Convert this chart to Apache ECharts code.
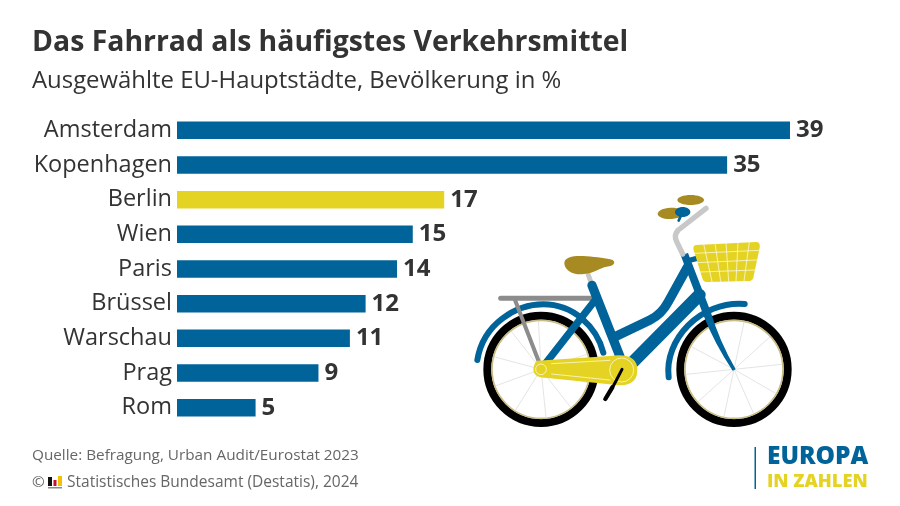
<!DOCTYPE html>
<html>
<head>
<meta charset="utf-8">
<title>Das Fahrrad als häufigstes Verkehrsmittel</title>
<script src="https://cdn.jsdelivr.net/npm/echarts@6/dist/echarts.min.js"></script>
<style>
  html, body { margin: 0; padding: 0; background: #fff; }
  #chart { width: 900px; height: 506px; }
</style>
</head>
<body>
<div id="chart"></div>
<script>
// chart data
var cities = ['Amsterdam', 'Kopenhagen', 'Berlin', 'Wien', 'Paris', 'Brüssel', 'Warschau', 'Prag', 'Rom'];
var shares = [39, 35, 17, 15, 14, 12, 11, 9, 5];
var highlightCity = 'Berlin';

var BLUE = '#00639a';
var YELLOW = '#e5d323';
var DARK = '#333333';
var GREY = '#666666';
var FONT = '"Open Sans", sans-serif';

// the graphic component has no path type, so each svg path gets registered as a shape
var pathCount = 0;
function pathShape(d) {
    var name = 'bikePath' + (pathCount++);
    echarts.graphic.registerShape(name, echarts.graphic.extendPath(d, {}));
    return name;
}

// helpers for the bicycle, coordinates are in a 3x space, the group scales them down
function stroke(d, color, width) {
    return {type: pathShape(d), style: {fill: null, stroke: color, lineWidth: width, lineCap: 'round', lineJoin: 'round'}};
}
function fill(d, color) {
    return {type: pathShape(d), style: {fill: color}};
}
function ellipse(cx, cy, rx, ry, color, rotation) {
    return {type: 'ellipse', x: cx, y: cy, rotation: rotation || 0, shape: {cx: 0, cy: 0, rx: rx, ry: ry}, style: {fill: color}};
}
function wheel(cx, cy, spokeAngles) {
    var parts = [
        {type: 'circle', shape: {cx: cx, cy: cy, r: 161}, style: {fill: '#fff', stroke: '#000', lineWidth: 24}},
        {type: 'circle', shape: {cx: cx, cy: cy, r: 147}, style: {fill: '#fff', stroke: '#c9bd85', lineWidth: 5}}
    ];
    spokeAngles.forEach(function (a) {
        var rad = a * Math.PI / 180;
        parts.push({type: 'line', shape: {x1: cx, y1: cy, x2: cx + 146 * Math.cos(rad), y2: cy + 146 * Math.sin(rad)},
            style: {stroke: '#d6d6d6', lineWidth: 2}});
    });
    return parts;
}

var rearSpokes = [-93, -52, -18, 16, 52, 84, 122, 160, 195, 232];
var frontSpokes = [-78, -42, -6, 30, 66, 102, 138, 174, 208, 244];

var bike = [].concat(
    wheel(243, 568, rearSpokes),
    wheel(822, 568, frontSpokes),
    [
        // fenders
        stroke('M52 540 C70 430 170 373 250 373 C340 373 410 440 430 518', BLUE, 18),
        stroke('M626 592 C612 480 720 362 854 372', BLUE, 18),
        // rack
        stroke('M122 355 L392 355', '#8c8c8c', 15),
        stroke('M165 360 L243 562', '#8c8c8c', 12),
        // seat post and saddle
        stroke('M385 285 L395 312', '#c8c8c8', 15),
        fill('M313 248 C315 230 345 226 380 229 C410 232 440 234 458 240 C468 248 462 258 440 260 C420 263 405 280 365 283 C335 284 312 268 313 248 Z', '#a88a22'),
        // frame
        stroke('M396 316 L480 530', BLUE, 28),
        stroke('M404 362 L243 568', BLUE, 22),
        stroke('M465 470 L570 420 Q605 403 625 365 L682 262', BLUE, 28),
        stroke('M520 545 L718 345', BLUE, 38),
        fill('M662 226 L684 219 L752 395 Q777 480 827 568 L818 572 Q763 490 730 405 Z', BLUE),
        // handlebar
        stroke('M738 85 L655 150 Q640 165 650 185 L668 222', '#c8c8c8', 16),
        ellipse(692, 60, 40, 15, '#a88a22'),
        ellipse(632, 100, 39, 17, '#a88a22', 0.05),
        ellipse(668, 96, 23, 15, BLUE),
        stroke('M664 105 L656 122', BLUE, 8),
        // basket with its holder
        stroke('M680 243 L708 236', BLUE, 16),
        fill('M708 195 L888 186 Q902 186 899 203 L880 293 Q877 303 865 303 L740 306 Q730 306 727 295 L700 207 Q699 197 708 195 Z', YELLOW),
        stroke('M731 192 L756 305 M765 190 L782 304 M798 189 L806 303 M834 187 L828 303 M868 186 L852 303', '#fff', 2),
        stroke('M703 220 L898 211 M712 248 L890 240 M720 276 L884 270', '#fff', 2),
        // chain guard and crank
        fill('M232 542 L450 528 Q532 516 532 570 Q532 620 470 615 L240 592 Q220 587 220 568 Q222 548 232 542 Z', YELLOW),
        {type: 'circle', shape: {cx: 485, cy: 570, r: 36}, style: {fill: null, stroke: '#fff', lineWidth: 2}},
        {type: 'circle', shape: {cx: 243, cy: 568, r: 16}, style: {fill: null, stroke: '#fff', lineWidth: 2}},
        stroke('M275 551 L450 541 M275 582 L450 600', '#fff', 2),
        stroke('M486 568 L460 618', '#000', 9),
        stroke('M457 622 L436 657', '#000', 13)
    ]
);

var chart = echarts.init(document.getElementById('chart'));

var option = {
    animation: false,
    backgroundColor: '#fff',
    title: [
        {text: 'Das Fahrrad als häufigstes Verkehrsmittel', left: 32, top: 29, padding: 0,
            textStyle: {fontFamily: FONT, fontSize: 28.4, fontWeight: 700, color: DARK}},
        {text: 'Ausgewählte EU-Hauptstädte, Bevölkerung in %', left: 32, top: 69, padding: 0,
            textStyle: {fontFamily: FONT, fontSize: 23.9, fontWeight: 400, color: DARK}},
        {text: 'Quelle: Befragung, Urban Audit/Eurostat 2023', left: 32, top: 448, padding: 0,
            textStyle: {fontFamily: FONT, fontSize: 15.3, fontWeight: 400, color: GREY}},
        {text: '©', left: 32, top: 475, padding: 0,
            textStyle: {fontFamily: FONT, fontSize: 15.3, fontWeight: 400, color: GREY}},
        {text: 'Statistisches Bundesamt (Destatis), 2024', left: 67, top: 475, padding: 0,
            textStyle: {fontFamily: FONT, fontSize: 15.5, fontWeight: 400, color: GREY}}
    ],
    grid: {left: 177, top: 113, width: 613, height: 312, containLabel: false},
    xAxis: {type: 'value', min: 0, max: 39, show: false},
    yAxis: {
        type: 'category',
        data: cities,
        inverse: true,
        axisLine: {show: false},
        axisTick: {show: false},
        axisLabel: {margin: 5, fontFamily: FONT, fontSize: 23.5, color: DARK}
    },
    series: [{
        type: 'bar',
        barWidth: 17.5,
        data: shares.map(function (value, i) {
            return {value: value, itemStyle: {color: cities[i] === highlightCity ? YELLOW : BLUE}};
        }),
        label: {show: true, position: 'right', distance: 6, fontFamily: FONT, fontSize: 24, fontWeight: 700, color: DARK}
    }],
    graphic: [
        // bicycle
        {type: 'group', x: 460, y: 180, scaleX: 1 / 3, scaleY: 1 / 3, silent: true, children: bike},
        // Destatis mark in the copyright line
        {type: 'rect', shape: {x: 48, y: 477, width: 4, height: 9}, style: {fill: '#111'}},
        {type: 'rect', shape: {x: 53.5, y: 480, width: 3, height: 6}, style: {fill: '#c8102e'}},
        {type: 'rect', shape: {x: 58, y: 476, width: 4, height: 10}, style: {fill: '#f2c200'}},
        {type: 'rect', shape: {x: 48, y: 487, width: 14, height: 1.5}, style: {fill: '#888'}},
        // logo
        {type: 'rect', shape: {x: 754.5, y: 447, width: 1.5, height: 42}, style: {fill: BLUE}},
        {type: 'text', x: 767, y: 445, style: {text: 'EUROPA', fontFamily: FONT, fontSize: 24.5, fontWeight: 800, fill: BLUE}},
        {type: 'text', x: 767, y: 473, style: {text: 'IN ZAHLEN', fontFamily: FONT, fontSize: 18.3, fontWeight: 800, fill: YELLOW}}
    ]
};

chart.setOption(option);
</script>
</body>
</html>
